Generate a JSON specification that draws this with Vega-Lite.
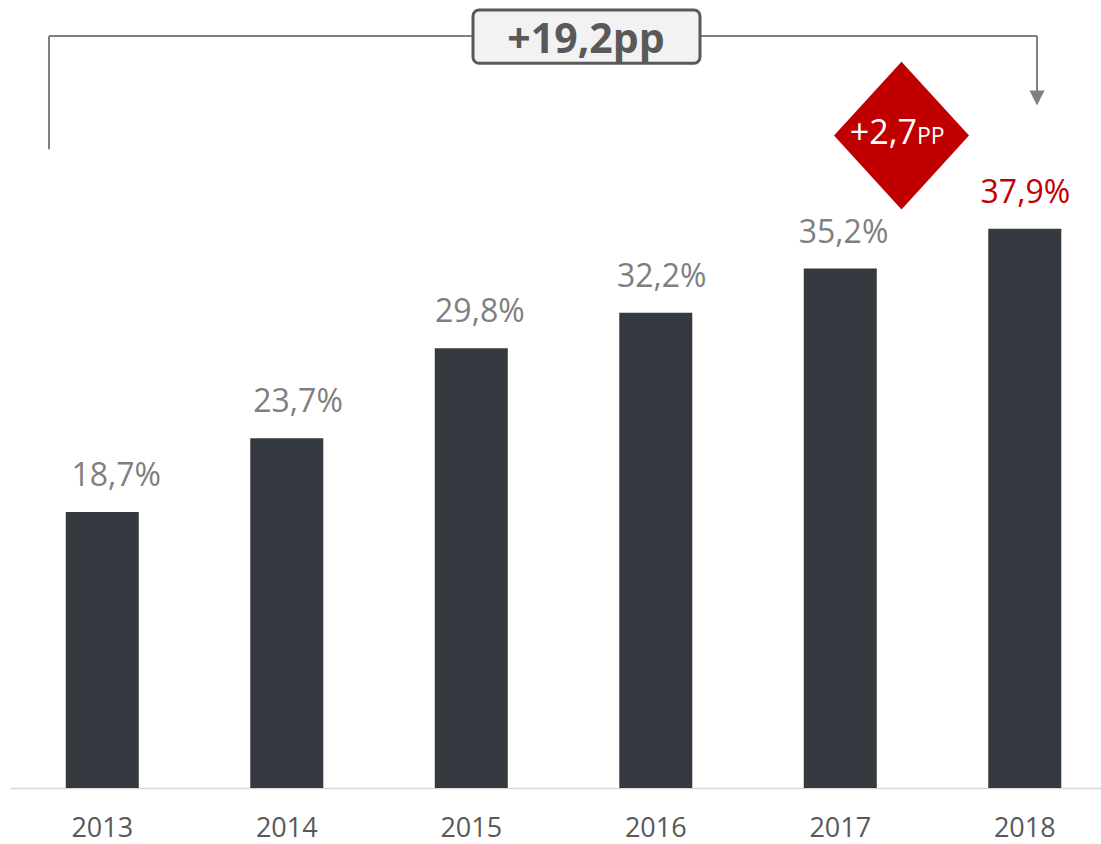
{
  "$schema": "https://vega.github.io/schema/vega-lite/v6.json",
  "width": 1091,
  "height": 788,
  "autosize": {"type": "none"},
  "padding": {"left": 10, "top": 0, "right": 0, "bottom": 56},
  "background": "white",
  "config": {"view": {"stroke": null}, "font": "Open Sans"},
  "datasets": {
    "bars": [
      {"year": "2013", "share": 18.7},
      {"year": "2014", "share": 23.7},
      {"year": "2015", "share": 29.8},
      {"year": "2016", "share": 32.2},
      {"year": "2017", "share": 35.2},
      {"year": "2018", "share": 37.9}
    ]
  },
  "layer": [
    {
      "data": {"name": "bars"},
      "mark": {"type": "bar", "color": "#343a40"},
      "encoding": {
        "x": {
          "field": "year", "type": "nominal", "sort": null,
          "scale": {"paddingInner": 0.6043, "paddingOuter": 0.2588, "align": 0.584},
          "axis": {"title": null, "labelAngle": 0, "ticks": false, "tickSize": 0, "grid": false,
                   "domainColor": "#d9d9d9", "domainWidth": 1.5,
                   "labelFont": "Open Sans", "labelFontSize": 27, "labelColor": "#595959",
                   "labelBaseline": "alphabetic", "labelPadding": 48}
        },
        "y": {"field": "share", "type": "quantitative", "scale": {"domain": [0, 53.4], "nice": false}, "axis": null}
      }
    },
    {
      "data": {"name": "bars"},
      "transform": [{"calculate": "replace(format(datum.share, '.1f'), '.', ',') + '%'", "as": "label"}],
      "mark": {"type": "text", "baseline": "alphabetic", "align": "center", "dy": -26, "fontSize": 32, "font": "Open Sans"},
      "encoding": {
        "x": {
          "field": "year", "type": "nominal", "sort": null,
          "scale": {"paddingInner": 0.6043, "paddingOuter": 0.2588, "align": 0.584},
          "axis": null
        },
        "y": {"field": "share", "type": "quantitative", "scale": {"domain": [0, 53.4], "nice": false}, "axis": null},
        "text": {"field": "label"},
        "color": {"condition": {"test": "datum.year === '2018'", "value": "#c00000"}, "value": "#7f7f7f"}
      }
    },
    {
      "data": {"values": [
        {"x": 2012.7114, "x2": 2018.0664, "y": 50.96, "y2": 50.96},
        {"x": 2012.7114, "x2": 2012.7114, "y": 43.28, "y2": 50.96},
        {"x": 2018.0664, "x2": 2018.0664, "y": 46.76, "y2": 50.96}
      ]},
      "mark": {"type": "rule", "color": "#808080", "strokeWidth": 2},
      "encoding": {
        "x": {"field": "x", "type": "quantitative", "scale": {"domain": [2012.5, 2018.4133], "nice": false, "zero": false}, "axis": null},
        "x2": {"field": "x2"},
        "y": {"field": "y", "type": "quantitative", "scale": {"domain": [0, 53.4], "nice": false}, "axis": null},
        "y2": {"field": "y2"}
      }
    },
    {
      "data": {"values": [{"x": 2018.0664, "y": 46.76}]},
      "mark": {"type": "point", "shape": "M-1,-1L1,-1L0,1Z", "size": 225, "filled": true, "opacity": 1, "color": "#808080"},
      "encoding": {
        "x": {"field": "x", "type": "quantitative", "scale": {"domain": [2012.5, 2018.4133], "nice": false, "zero": false}, "axis": null},
        "y": {"field": "y", "type": "quantitative", "scale": {"domain": [0, 53.4], "nice": false}, "axis": null}
      }
    },
    {
      "data": {"values": [{"x": 2015.0095, "x2": 2016.2398, "y": 52.72, "y2": 49.11}]},
      "mark": {"type": "rect", "fill": "#f2f2f2", "stroke": "#595959", "strokeWidth": 3, "cornerRadius": 6},
      "encoding": {
        "x": {"field": "x", "type": "quantitative", "scale": {"domain": [2012.5, 2018.4133], "nice": false, "zero": false}, "axis": null},
        "x2": {"field": "x2"},
        "y": {"field": "y", "type": "quantitative", "scale": {"domain": [0, 53.4], "nice": false}, "axis": null},
        "y2": {"field": "y2"}
      }
    },
    {
      "data": {"values": [{"x": 2015.622, "y": 49.83, "t": "+19,2pp"}]},
      "mark": {"type": "text", "align": "center", "baseline": "alphabetic", "fontSize": 41, "fontWeight": "bold", "font": "Open Sans", "color": "#595959"},
      "encoding": {
        "x": {"field": "x", "type": "quantitative", "scale": {"domain": [2012.5, 2018.4133], "nice": false, "zero": false}, "axis": null},
        "y": {"field": "y", "type": "quantitative", "scale": {"domain": [0, 53.4], "nice": false}, "axis": null},
        "text": {"field": "t"}
      }
    },
    {
      "data": {"values": [{"x": 2017.332, "y": 44.21}]},
      "mark": {"type": "point", "shape": "M-1,0L0,-1.093L1,0L0,1.093Z", "size": 18225, "filled": true, "opacity": 1, "color": "#c00000"},
      "encoding": {
        "x": {"field": "x", "type": "quantitative", "scale": {"domain": [2012.5, 2018.4133], "nice": false, "zero": false}, "axis": null},
        "y": {"field": "y", "type": "quantitative", "scale": {"domain": [0, 53.4], "nice": false}, "axis": null}
      }
    },
    {
      "data": {"values": [{"x": 2017.416, "y": 43.64, "t": "+2,7"}]},
      "mark": {"type": "text", "align": "right", "baseline": "alphabetic", "fontSize": 34, "font": "Open Sans", "color": "white"},
      "encoding": {
        "x": {"field": "x", "type": "quantitative", "scale": {"domain": [2012.5, 2018.4133], "nice": false, "zero": false}, "axis": null},
        "y": {"field": "y", "type": "quantitative", "scale": {"domain": [0, 53.4], "nice": false}, "axis": null},
        "text": {"field": "t"}
      }
    },
    {
      "data": {"values": [{"x": 2017.416, "y": 43.64, "t": "PP"}]},
      "mark": {"type": "text", "align": "left", "baseline": "alphabetic", "fontSize": 23, "font": "Open Sans", "color": "white"},
      "encoding": {
        "x": {"field": "x", "type": "quantitative", "scale": {"domain": [2012.5, 2018.4133], "nice": false, "zero": false}, "axis": null},
        "y": {"field": "y", "type": "quantitative", "scale": {"domain": [0, 53.4], "nice": false}, "axis": null},
        "text": {"field": "t"}
      }
    }
  ],
  "resolve": {"scale": {"x": "independent"}}
}
